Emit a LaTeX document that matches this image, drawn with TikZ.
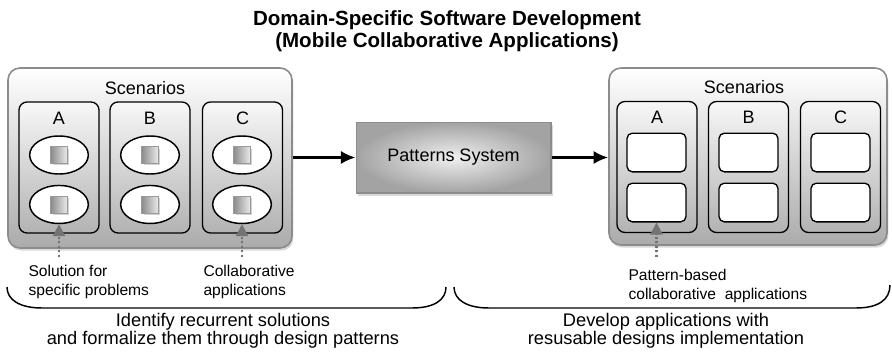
\documentclass[tikz,border=0pt]{standalone}
\usepackage{fontspec}
\setmainfont{Liberation Sans}
\usetikzlibrary{arrows,arrows.meta,shapes,positioning,shadows}

\begin{document}
\begin{tikzpicture}[x=0.75pt,y=-0.75pt,>={Latex[length=11pt,width=10pt]},thick,
                    node distance=7.5pt]
\tikzstyle{scen_box}=[rectangle,rounded corners=9pt,draw=black!45,line width=1.2pt,top color=white,bottom color=black!33,minimum width=213pt,minimum height=135pt,drop shadow={shadow xshift=1pt,shadow yshift=-2pt,opacity=0.3}]
\tikzstyle{scen_col}=[rectangle,rounded corners=6pt,draw=black,line width=1pt,top color=black!3,bottom color=black!30,minimum width=60pt,minimum height=98.25pt]
\tikzstyle{sol_ell}=[ellipse,draw=black,line width=1.1pt,fill=white,minimum width=44pt,minimum height=28.5pt,inner sep=0pt]
\tikzstyle{sol_sq}=[rectangle,draw=black!40,thin,left color=black!45,right color=black!8,minimum size=12.5pt,inner sep=0pt,drop shadow={shadow xshift=1.5pt,shadow yshift=-1.5pt,opacity=0.35}]
\tikzstyle{app_box}=[rectangle,rounded corners=4pt,draw=black,line width=1pt,fill=white,minimum width=44.25pt,minimum height=29pt]
\tikzstyle{pat_sys}=[rectangle,draw=black!45,line width=1pt,inner color=black!6,outer color=black!36,minimum width=146pt,minimum height=53pt,drop shadow={shadow xshift=1.5pt,shadow yshift=-2pt,opacity=0.3}]
\tikzstyle{flow}=[->,line width=2pt]
\tikzstyle{dot_arrow}=[-{Triangle[length=9pt,width=9pt]},draw=black!55,fill=black!55,line width=1.6pt,dash pattern=on 1.6pt off 1.8pt]
\tikzstyle{brace_line}=[line width=1.1pt]
\tikzstyle{big_txt}=[font=\fontsize{13.5}{15}\selectfont]
\tikzstyle{small_txt}=[font=\fontsize{11.7}{14.2}\selectfont,align=left,anchor=west,inner sep=0pt]
\tikzstyle{foot_txt}=[font=\fontsize{13.7}{13.5}\selectfont,align=center]

\useasboundingbox (0,0) rectangle (892,353);

% title
\node[font=\fontsize{15.4}{16.5}\selectfont\bfseries, align=center] (title) at (447,31)
  {Domain-Specific Software Development\\(Mobile Collaborative Applications)};

% left scenarios
\node[scen_box] (scenL) at (150,158) {};
\node[big_txt] (scenL_lab) at (145,88) {Scenarios};
\node[scen_col] (colLA) at (59,167.5) {};
\node[scen_col] (colLB) at (150,167.5) {};
\node[scen_col] (colLC) at (242.5,167.5) {};
\node[big_txt] (labLA) at (59,118) {A};
\node[big_txt] (labLB) at (150,118) {B};
\node[big_txt] (labLC) at (242.5,118) {C};

\node[sol_ell] (ellA1) at (59,155) {};
\node[sol_ell] (ellA2) [below=of ellA1] {};
\node[sol_ell] (ellB1) at (150,155) {};
\node[sol_ell] (ellB2) [below=of ellB1] {};
\node[sol_ell] (ellC1) at (242,155) {};
\node[sol_ell] (ellC2) [below=of ellC1] {};
\node[sol_sq] (sqA1) at (ellA1) {};
\node[sol_sq] (sqA2) at (ellA2) {};
\node[sol_sq] (sqB1) at (ellB1) {};
\node[sol_sq] (sqB2) at (ellB2) {};
\node[sol_sq] (sqC1) at (ellC1) {};
\node[sol_sq] (sqC2) at (ellC2) {};

% patterns system
\node[pat_sys, big_txt] (pat) at (453.5,157.5) {Patterns System};

% right scenarios
\node[scen_box, minimum width=208.5pt, minimum height=132.75pt] (scenR) at (748,156.5) {};
\node[big_txt] (scenR_lab) at (744,87) {Scenarios};
\node[scen_col] (colRA) at (657,167) {};
\node[scen_col] (colRB) at (748.5,167) {};
\node[scen_col] (colRC) at (840.5,167) {};
\node[big_txt] (labRA) at (657,117) {A};
\node[big_txt] (labRB) at (748.5,117) {B};
\node[big_txt] (labRC) at (840.5,117) {C};

\node[app_box] (appA1) at (656.5,152.5) {};
\node[app_box] (appA2) [below=of appA1] {};
\node[app_box] (appB1) at (748.5,152.5) {};
\node[app_box] (appB2) [below=of appB1] {};
\node[app_box] (appC1) at (840.5,152.5) {};
\node[app_box] (appC2) [below=of appC1] {};

% main flow
\draw[flow] (scenL.east |- pat.west) -- (pat.west);
\draw[flow] (pat.east) -- (pat.east -| scenR.west);

% pointers
\coordinate (tailA) at (59,257);
\coordinate (tailC) at (242,257);
\coordinate (tailR) at (656.5,257);
\draw[dot_arrow] (tailA) -- (ellA2.south);
\draw[dot_arrow] (tailC) -- (ellC2.south);
\draw[dot_arrow] (tailR) -- (appA2.south);

\node[small_txt] (solTxt) at (28,281.5) {Solution for\\specific problems};
\node[small_txt] (colTxt) at (203,281.5) {Collaborative\\applications};
\node[small_txt] (patTxt) at (628,285.5) {Pattern-based\\collaborative\ \ applications};

% braces
\draw[brace_line] (7,287) .. controls (7,300) and (20,308) .. (42,308) -- (412,308)
  .. controls (434,308) and (446,300) .. (446,287);
\draw[brace_line] (454,287) .. controls (454,300) and (467,308) .. (489,308) -- (856,308)
  .. controls (878,308) and (890,300) .. (890,285);

\node[foot_txt] (leftFoot) at (223,331) {Identify recurrent solutions\\and formalize them through design patterns};
\node[foot_txt] (rightFoot) at (666,331) {Develop applications with\\resusable designs implementation};
\end{tikzpicture}
\end{document}
